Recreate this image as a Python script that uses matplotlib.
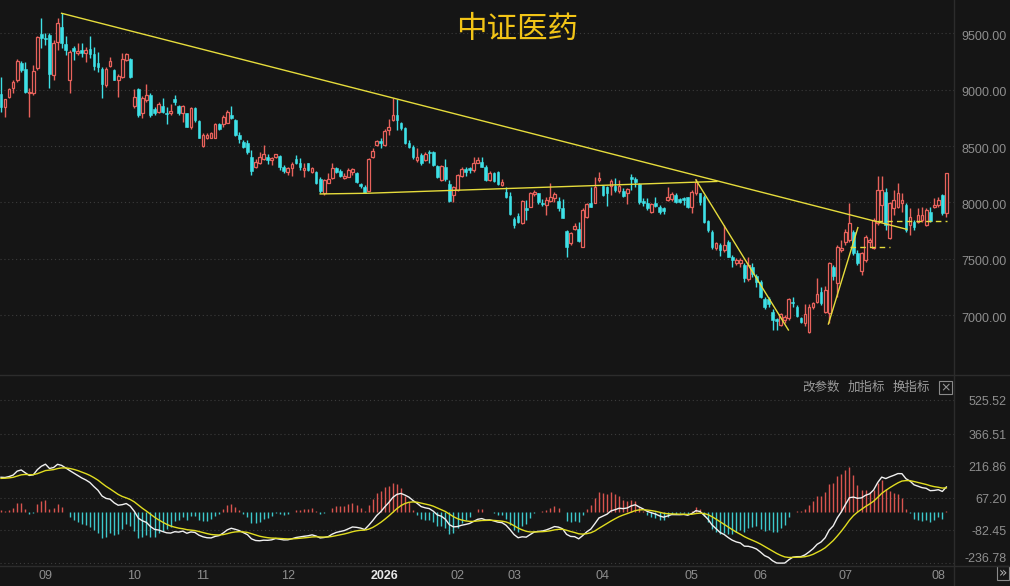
import numpy as np
import matplotlib
matplotlib.use('Agg')
import matplotlib.pyplot as plt
import matplotlib.transforms as mtrans
from matplotlib.patches import Rectangle

# ---------------- 中证医药 日K (开 高 低 收) ----------------
opens = [8961, 8843, 8938, 9020, 9091, 9234, 9183, 8967, 8967, 9189,
         9494, 9462, 9485, 9130, 9426, 9559, 9405, 9086, 9367, 9328,
         9352, 9322, 9358, 9314, 9240, 9186, 9041, 9210, 9174, 9086,
         9109, 9263, 9269, 8855, 9003, 8790, 8908, 8952, 8825, 8804,
         8855, 8790, 8790, 8914, 8855, 8790, 8796, 8665, 8834, 8722,
         8500, 8568, 8576, 8576, 8695, 8695, 8707, 8775, 8730, 8597,
         8538, 8529, 8405, 8316, 8346, 8384, 8405, 8375, 8405, 8411,
         8310, 8272, 8301, 8381, 8352, 8286, 8346, 8272, 8272, 8204,
         8079, 8174, 8214, 8303, 8282, 8214, 8229, 8273, 8264, 8160,
         8140, 8104, 8400, 8510, 8545, 8510, 8643, 8732, 8776, 8708,
         8658, 8525, 8495, 8377, 8421, 8377, 8451, 8451, 8323, 8199,
         8317, 8163, 8066, 8110, 8234, 8294, 8303, 8288, 8353, 8362,
         8317, 8199, 8264, 8273, 8155, 8095, 8060, 7850, 7879, 7814,
         7947, 7962, 8074, 8080, 7997, 7977, 8015, 8036, 8012, 7947,
         7749, 7636, 7761, 7761, 7607, 7867, 7997, 7997, 8199, 8145,
         8140, 8148, 8145, 8104, 8104, 8080, 8222, 8205, 8160, 8012,
         7997, 7918, 7997, 7962, 7947, 8021, 8027, 8066, 8027, 8036,
         8045, 7962, 8081, 8081, 8051, 7838, 7740, 7592, 7622, 7577,
         7651, 7518, 7465, 7459, 7444, 7317, 7424, 7347, 7296, 7139,
         7139, 7030, 6962, 6911, 6956, 6971, 7119, 7074, 6971, 6926,
         6852, 7074, 7119, 7207, 7030, 7015, 7429, 7287, 7577, 7651,
         7666, 7740, 7554, 7394, 7489, 7651, 7592, 7814, 7977, 8096,
         7681, 7947, 7962, 7992, 7977, 7800, 7829, 7829, 7844, 7800,
         7918, 7956, 7977, 8066, 7903]
highs = [9109, 8920, 9020, 9086, 9269, 9251, 9248, 9020, 9216, 9476,
         9633, 9500, 9500, 9441, 9633, 9678, 9476, 9352, 9388, 9411,
         9411, 9382, 9476, 9382, 9337, 9204, 9204, 9293, 9180, 9139,
         9322, 9322, 9278, 9003, 9020, 8944, 9050, 8967, 8849, 8893,
         8923, 8849, 8878, 8952, 8864, 8864, 8796, 8849, 8843, 8730,
         8612, 8612, 8627, 8707, 8707, 8775, 8819, 8855, 8736, 8627,
         8553, 8553, 8464, 8381, 8449, 8508, 8434, 8405, 8434, 8420,
         8331, 8316, 8360, 8420, 8390, 8346, 8352, 8316, 8280, 8221,
         8212, 8257, 8347, 8317, 8294, 8258, 8303, 8303, 8273, 8175,
         8155, 8391, 8480, 8554, 8569, 8649, 8738, 8924, 8915, 8717,
         8673, 8554, 8510, 8480, 8436, 8451, 8465, 8459, 8332, 8332,
         8382, 8199, 8146, 8252, 8311, 8317, 8317, 8400, 8400, 8400,
         8332, 8282, 8273, 8282, 8205, 8134, 8095, 7873, 7902, 8021,
         8021, 8095, 8110, 8086, 8027, 8051, 8175, 8095, 8051, 8027,
         7755, 7740, 7814, 7829, 7947, 7997, 8134, 8228, 8273, 8154,
         8145, 8205, 8214, 8199, 8125, 8125, 8249, 8222, 8169, 8036,
         8036, 7997, 8045, 7977, 7956, 8140, 8095, 8086, 8036, 8051,
         8051, 8110, 8205, 8087, 8066, 7844, 7755, 7651, 7637, 7800,
         7666, 7533, 7503, 7503, 7459, 7512, 7459, 7364, 7311, 7163,
         7163, 7051, 6971, 7015, 7000, 7148, 7163, 7089, 6985, 7098,
         7098, 7119, 7326, 7252, 7258, 7474, 7444, 7622, 7666, 7761,
         7992, 7755, 7577, 7563, 7711, 7681, 7859, 8235, 8235, 8125,
         8007, 8110, 8175, 8087, 7992, 7947, 7844, 7947, 7962, 7947,
         7956, 8036, 8051, 8075, 8264]
lows = [8804, 8760, 8923, 8967, 9071, 9160, 8967, 8760, 8952, 9174,
        9367, 9396, 9020, 9086, 9352, 9367, 9308, 8973, 9263, 9308,
        9293, 9248, 9278, 9174, 9160, 8923, 9026, 9204, 9086, 8938,
        9100, 9257, 9100, 8834, 8754, 8745, 8893, 8760, 8775, 8790,
        8790, 8695, 8775, 8864, 8775, 8716, 8665, 8656, 8716, 8568,
        8494, 8559, 8568, 8568, 8642, 8671, 8701, 8736, 8588, 8529,
        8479, 8434, 8242, 8301, 8340, 8375, 8340, 8331, 8390, 8292,
        8257, 8242, 8233, 8340, 8292, 8227, 8280, 8257, 8162, 8085,
        8064, 8168, 8205, 8258, 8229, 8205, 8223, 8243, 8175, 8125,
        8081, 8101, 8391, 8501, 8480, 8504, 8599, 8726, 8643, 8643,
        8519, 8480, 8382, 8362, 8332, 8371, 8353, 8323, 8214, 8193,
        8193, 8007, 8007, 8101, 8229, 8234, 8264, 8273, 8347, 8311,
        8193, 8193, 8184, 8155, 8146, 8036, 7888, 7770, 7814, 7808,
        7844, 7956, 8057, 7986, 7968, 7888, 8006, 8006, 7926, 7858,
        7518, 7622, 7755, 7651, 7601, 7858, 7956, 7992, 8184, 8057,
        7968, 8066, 8095, 8086, 8045, 7986, 8110, 8140, 7986, 7968,
        7932, 7909, 7962, 7897, 7897, 8015, 8015, 7997, 7992, 7977,
        7947, 7903, 8066, 7977, 7820, 7740, 7583, 7577, 7524, 7563,
        7512, 7429, 7444, 7429, 7296, 7305, 7341, 7252, 7148, 7051,
        7074, 6867, 6867, 6903, 6926, 6956, 7074, 6985, 6926, 6903,
        6843, 7051, 7110, 7089, 7021, 6926, 7311, 7163, 7563, 7622,
        7651, 7533, 7444, 7355, 7474, 7607, 7583, 7800, 7829, 7755,
        7672, 7888, 7947, 7918, 7740, 7711, 7755, 7820, 7829, 7791,
        7829, 7947, 7962, 7888, 7873]
closes = [8849, 8914, 9003, 9068, 9257, 9174, 8982, 8982, 9168, 9465,
          9456, 9450, 9139, 9417, 9595, 9417, 9352, 9337, 9346, 9343,
          9328, 9352, 9316, 9213, 9204, 9050, 9183, 9257, 9091, 9121,
          9269, 9316, 9115, 8938, 8775, 8929, 8952, 8775, 8790, 8872,
          8804, 8781, 8810, 8893, 8790, 8855, 8671, 8834, 8730, 8576,
          8597, 8597, 8612, 8695, 8656, 8754, 8804, 8745, 8597, 8559,
          8488, 8449, 8280, 8360, 8399, 8428, 8375, 8390, 8428, 8310,
          8280, 8301, 8340, 8346, 8310, 8301, 8286, 8301, 8174, 8103,
          8198, 8212, 8303, 8273, 8234, 8237, 8288, 8294, 8184, 8146,
          8087, 8385, 8459, 8545, 8525, 8637, 8673, 8776, 8732, 8658,
          8530, 8495, 8406, 8406, 8347, 8430, 8442, 8332, 8229, 8323,
          8205, 8016, 8134, 8243, 8294, 8273, 8288, 8353, 8377, 8317,
          8199, 8264, 8193, 8163, 8184, 8051, 7900, 7799, 7829, 8012,
          7932, 8086, 8095, 8006, 7986, 8021, 8051, 8072, 7947, 7864,
          7607, 7725, 7790, 7660, 7932, 7986, 7962, 8140, 8219, 8066,
          8086, 8193, 8110, 8145, 8057, 8116, 8211, 8184, 8006, 7997,
          7947, 7986, 7968, 7918, 7926, 8051, 8074, 8006, 8006, 8021,
          7962, 8096, 8184, 8007, 7829, 7755, 7607, 7637, 7577, 7622,
          7518, 7489, 7489, 7489, 7326, 7444, 7364, 7296, 7163, 7074,
          7098, 6956, 6950, 7009, 6985, 7139, 7110, 6991, 6941, 7009,
          7074, 7104, 7187, 7104, 7222, 7459, 7347, 7607, 7592, 7740,
          7820, 7548, 7459, 7548, 7690, 7666, 7844, 8110, 8110, 7800,
          7992, 8021, 8081, 8021, 7755, 7873, 7779, 7888, 7888, 7933,
          7838, 7977, 8021, 7903, 8258]

# 月份刻度 (K线序号)
month_pos = [11, 33, 50, 71, 95, 113, 127, 149, 171, 188, 209, 232]
month_lab = ['09', '10', '11', '12', '2026', '02', '03', '04', '05', '06', '07', '08']

price_ticks = [7000, 7500, 8000, 8500, 9000, 9500]
macd_ticks = [525.52, 366.51, 216.86, 67.20, -82.45, -236.78]

# 画线 (K线序号, 点位)
trend_x = [15.0, 224.2]
trend_y = [9679, 7761]
support_x = [79.0, 90.6, 177.2]
support_y = [8075, 8081, 8186]
drop_x = [172.0, 194.9]
drop_y = [8200, 6867]
rise_x = [204.8, 212.1]
rise_y = [6920, 7776]
dash1_x = [210.2, 220.0]
dash1_y = [7607, 7607]
dash2_x = [216.8, 234.2]
dash2_y = [7838, 7838]

# MACD 起始状态 (窗口之前)
ema12_seed = 8760
ema26_seed = 8590
dea_seed = 158

BG = '#151515'
RED = '#e8625c'
CYAN = '#3ee0e6'
YEL = '#e6dc3c'
GRID = '#3c3c3c'
TXT = '#8e8e8e'
CJK = ['Noto Sans CJK SC', 'DejaVu Sans']

o = np.array(opens, float)
h = np.array(highs, float)
l = np.array(lows, float)
c = np.array(closes, float)
n = len(c)
x = np.arange(n)
up = c >= o

# MACD(12,26,9)
e12, e26, dea = ema12_seed, ema26_seed, dea_seed
dif_l, dea_l = [], []
for v in c:
    e12 = e12 + (v - e12) * 2 / 13
    e26 = e26 + (v - e26) * 2 / 27
    d = e12 - e26
    dea = dea + (d - dea) * 2 / 10
    dif_l.append(d)
    dea_l.append(dea)
dif = np.array(dif_l)
dea = np.array(dea_l)
hist = 2 * (dif - dea)

W, H = 1010, 586
fig = plt.figure(figsize=(W / 100, H / 100), dpi=100, facecolor=BG)


def rect(x0, y0, x1, y1):
    return [x0 / W, 1 - y1 / H, (x1 - x0) / W, (y1 - y0) / H]


ax = fig.add_axes(rect(0, 0, 954, 372))
ax2 = fig.add_axes(rect(0, 378, 954, 565))
for a in (ax, ax2):
    a.set_facecolor(BG)
    for s in a.spines.values():
        s.set_visible(False)
    a.set_xticks([])
    a.set_yticks([])
    a.set_xlim((0 - 1) / 4.04, (954 - 1) / 4.04)

# ---- K线 ----
ax.set_ylim(6494, 9797)
lab_tr = mtrans.offset_copy(ax.get_yaxis_transform(), fig=fig, x=0, y=-3.5, units='dots')
for v in price_ticks:
    ax.axhline(v, color=GRID, lw=0.8, ls=(0, (1, 2.5)), zorder=0)
    ax.text(1007 / 954, v, '%.2f' % v, transform=lab_tr,
            ha='right', va='center', color=TXT, fontsize=9, clip_on=False,
            family='Liberation Sans')

ax.vlines(x[up], l[up], h[up], color=RED, lw=1, zorder=2)
ax.vlines(x[~up], l[~up], h[~up], color=CYAN, lw=1, zorder=2)
body_lo = np.minimum(o, c)
body_h = np.maximum(np.abs(c - o), 6)
ax.bar(x[up], body_h[up], bottom=body_lo[up], width=0.68, facecolor=BG,
       edgecolor=RED, lw=0.9, zorder=3)
ax.bar(x[~up], body_h[~up], bottom=body_lo[~up], width=0.68, facecolor=CYAN,
       edgecolor=CYAN, lw=0.4, zorder=3)

ax.plot(trend_x, trend_y, color=YEL, lw=1, zorder=4)
ax.plot(support_x, support_y, color=YEL, lw=1, zorder=4)
ax.plot(drop_x, drop_y, color=YEL, lw=1, zorder=4)
ax.plot(rise_x, rise_y, color=YEL, lw=1, zorder=4)
ax.plot(dash1_x, dash1_y, color=YEL, lw=1, ls=(0, (4, 3)), zorder=4)
ax.plot(dash2_x, dash2_y, color=YEL, lw=1, ls=(0, (4, 3)), zorder=4)

# ---- MACD ----
ax2.set_ylim(-246, 629)
lab_tr2 = mtrans.offset_copy(ax2.get_yaxis_transform(), fig=fig, x=0, y=-1.5, units='dots')
for v in macd_ticks:
    ax2.axhline(v, color=GRID, lw=0.8, ls=(0, (1, 2.5)), zorder=0)
    ax2.text(1007 / 954, v, '%.2f' % v, transform=lab_tr2,
             ha='right', va='bottom' if v < -200 else 'center', color=TXT,
             fontsize=9, clip_on=False, family='Liberation Sans')
pos = hist >= 0
ax2.vlines(x[pos], 0, hist[pos], color='#d9544f', lw=1, zorder=2)
ax2.vlines(x[~pos], 0, hist[~pos], color='#3cc8cc', lw=1, zorder=2)
ax2.plot(x, dif, color='#f0f0f0', lw=1, zorder=3)
ax2.plot(x, dea, color='#e0dc20', lw=1, zorder=3)

for p, t in zip(month_pos, month_lab):
    ax2.text(p, -0.06, t, transform=ax2.get_xaxis_transform(), ha='center',
             va='center', fontsize=9, clip_on=False, family='Liberation Sans',
             color='#e8e8e8' if t == '2026' else TXT,
             fontweight='bold' if t == '2026' else 'normal')

# ---- 分隔线与文字 ----
fig.add_artist(plt.Line2D([0, 1], [1 - 375 / H] * 2, color='#2c2c2c', lw=1))
fig.add_artist(plt.Line2D([0, 1], [1 - 566 / H] * 2, color='#2c2c2c', lw=1))
fig.add_artist(plt.Line2D([954 / W] * 2, [0, 1], color='#2c2c2c', lw=1))

fig.text(517 / W, 1 - 29 / H, '中证医药', ha='center', va='center', fontsize=22,
         color='#f2c417', family=CJK)
for cx, t in zip([821, 866, 911], ['改参数', '加指标', '换指标']):
    fig.text(cx / W, 1 - 387 / H, t, ha='center', va='center', fontsize=9,
             color='#9a9a9a', family=CJK)
fig.add_artist(Rectangle((939 / W, 1 - 394 / H), 13 / W, 13 / H, fill=False,
                         edgecolor='#8a8a8a', lw=0.8))
fig.text(945.5 / W, 1 - 387.5 / H, '×', ha='center', va='center', fontsize=9,
         color='#9a9a9a')
fig.add_artist(Rectangle((997 / W, 1 - 580 / H), 12 / W, 14 / H, fill=False,
                         edgecolor='#8a8a8a', lw=0.8))
fig.text(1003 / W, 1 - 573 / H, '»', ha='center', va='center', fontsize=10,
         color='#b0b0b0')

fig.savefig('out.png', dpi=100, facecolor=BG)
